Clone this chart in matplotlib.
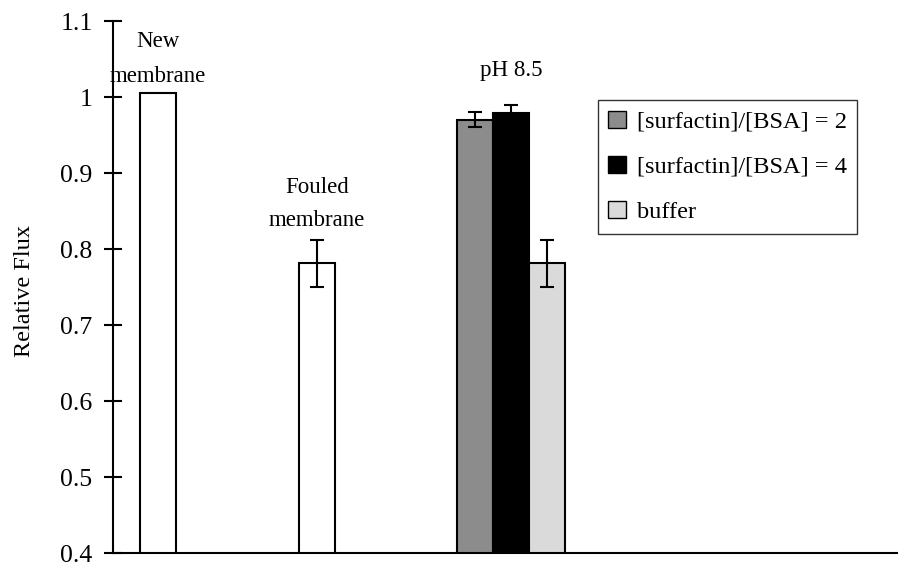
import matplotlib.pyplot as plt
from matplotlib.patches import Patch

plt.rcParams['font.family'] = 'Liberation Serif'

# bar values
single_labels = ['New\nmembrane', 'Fouled\nmembrane']
single_vals = [1.005, 0.781]
single_err = [0.0, 0.031]

group_labels = ['[surfactin]/[BSA] = 2', '[surfactin]/[BSA] = 4', 'buffer']
group_vals = [0.970, 0.979, 0.781]
group_err = [0.01, 0.011, 0.031]
group_title = 'pH 8.5'

yticks = [0.4, 0.5, 0.6, 0.7, 0.8, 0.9, 1, 1.1]

fig = plt.figure(figsize=(8.98, 5.67), dpi=100)
ax = fig.add_axes([113/898, 14/567, 785/898, 532/567])

single_x = [1.25, 5.67]
group_x = [10.06, 11.05, 12.04]
colors = ['#8c8c8c', 'black', '#dadada']
ebar = dict(ecolor='black', elinewidth=1.5, capsize=5, capthick=1.5)

ax.bar(single_x[0], single_vals[0], width=1, color='white', edgecolor='black', lw=1.5)
ax.bar(single_x[1], single_vals[1], width=1, color='white', edgecolor='black', lw=1.5,
       yerr=single_err[1], error_kw=ebar)
for x, v, e, c in zip(group_x, group_vals, group_err, colors):
    ax.bar(x, v, width=1, color=c, edgecolor='black', lw=1.5, yerr=e, error_kw=ebar)

# annotations above the bars
ax.text(single_x[0], 1.05, single_labels[0], ha='center', va='center', fontsize=16.5, linespacing=1.85)
ax.text(single_x[1], 0.859, single_labels[1], ha='center', va='center', fontsize=16.5, linespacing=1.75)
ax.text(group_x[1], 1.035, group_title, ha='center', va='center', fontsize=16.5)

ax.set_xlim(0, 21.8)
ax.set_ylim(0.4, 1.1)
ax.set_yticks(yticks)
ax.set_yticklabels(['0.4', '0.5', '0.6', '0.7', '0.8', '0.9', '1', '1.1'], fontsize=18.5)
ax.tick_params(axis='y', direction='inout', length=13.5, width=1.5, pad=8)
ax.set_xticks([])
ax.spines['top'].set_visible(False)
ax.spines['right'].set_visible(False)
ax.spines['left'].set_linewidth(1.5)
ax.spines['bottom'].set_linewidth(1.5)
ax.set_ylabel('Relative Flux', fontsize=17.5)
ax.yaxis.set_label_coords(-0.099, 0.4925)

handles = [Patch(facecolor=c, edgecolor='black', lw=1) for c in colors]
leg = ax.legend(handles, group_labels, loc='upper left', bbox_to_anchor=(0.618, 0.851),
                borderaxespad=0, fontsize=17.6, frameon=True, fancybox=False,
                handlelength=0.7, handleheight=0.7, handletextpad=0.45,
                labelspacing=0.95, borderpad=0.42)
leg.get_frame().set_edgecolor('black')
leg.get_frame().set_linewidth(1)

fig.savefig('out.png', dpi=100)
